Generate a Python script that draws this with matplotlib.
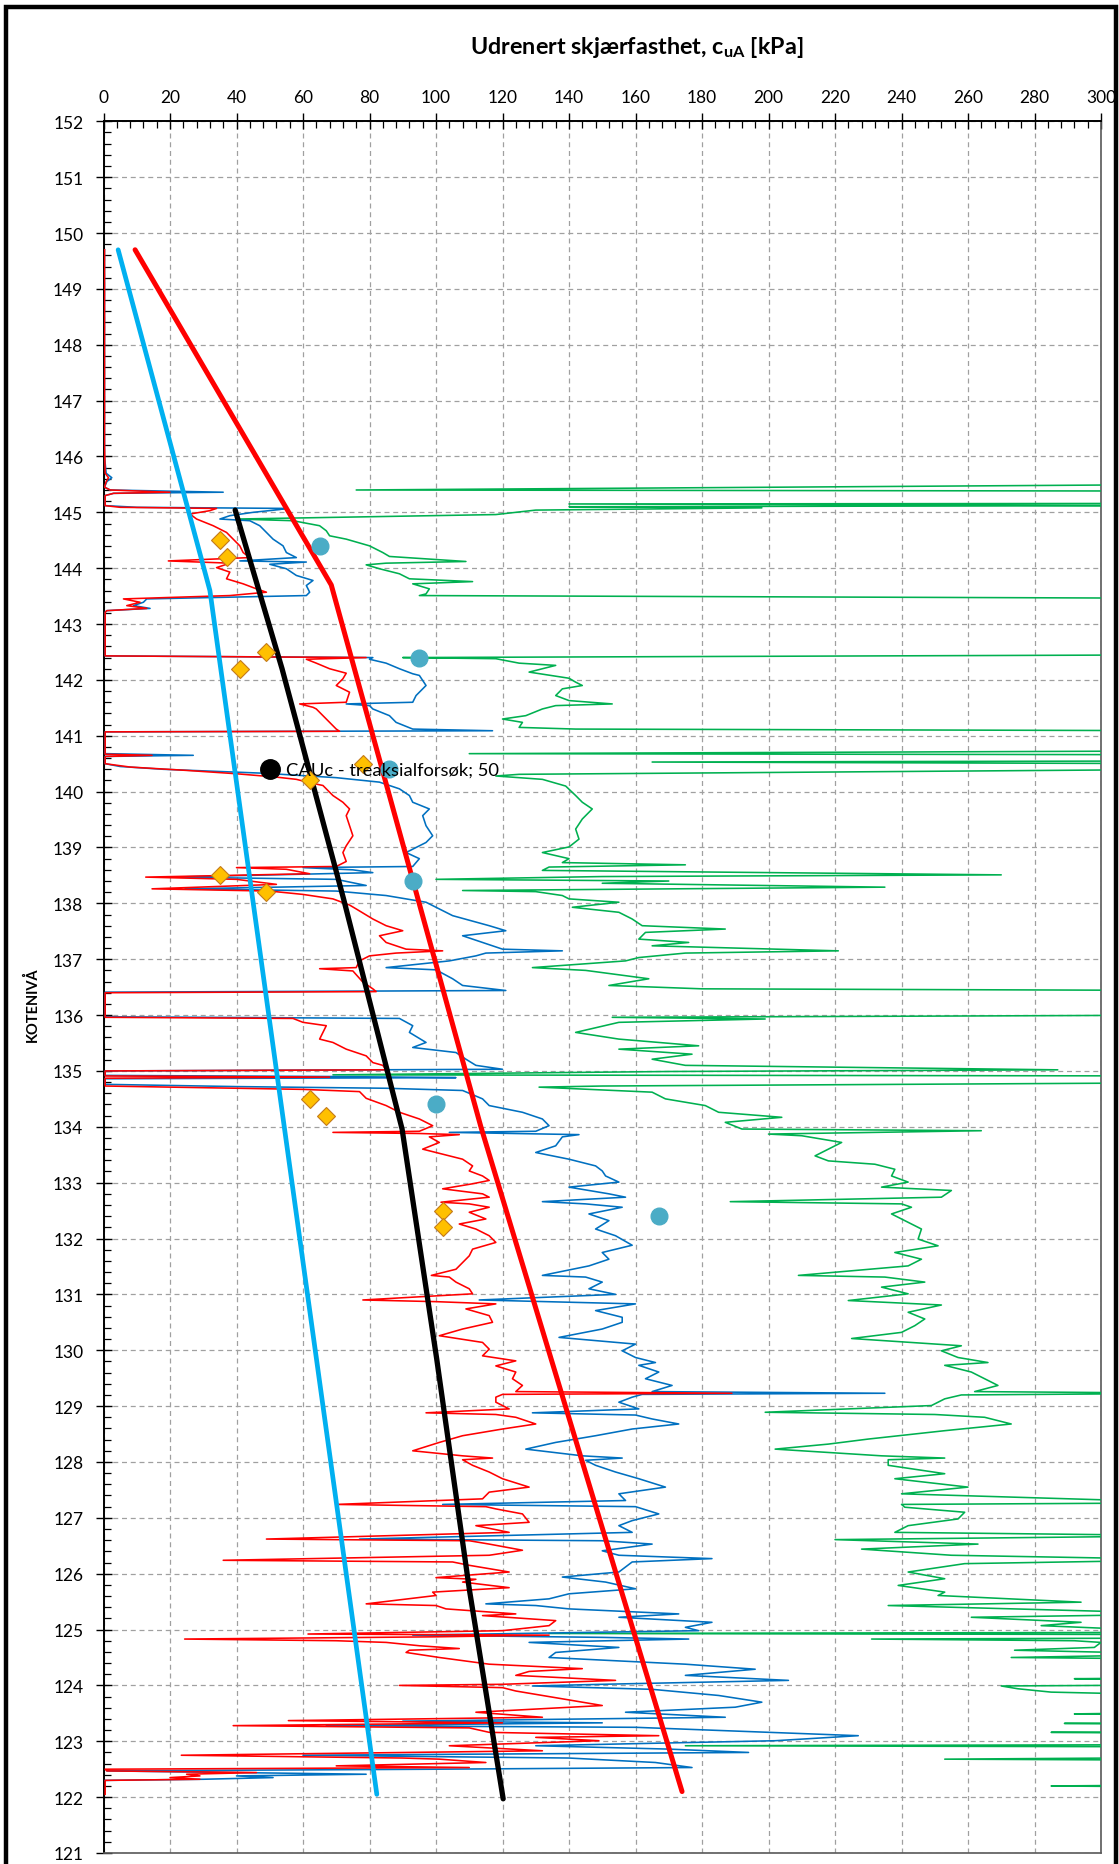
import matplotlib
matplotlib.use("Agg")
import matplotlib.pyplot as plt
from matplotlib.patches import Rectangle
from matplotlib.ticker import MultipleLocator

plt.rcParams['font.family'] = ['Lato', 'DejaVu Sans']
plt.rcParams['mathtext.fontset'] = 'custom'
plt.rcParams['mathtext.rm'] = 'Lato:bold'
plt.rcParams['mathtext.it'] = 'Lato:bold:italic'
plt.rcParams['mathtext.bf'] = 'Lato:bold'

# ---------------------------------------------------------------------------
# Undrained shear strength profiles, (elevation [m], c_uA [kPa])
# ---------------------------------------------------------------------------
cptu_red = [
    (149.70, 0.3), (146.20, 0.3), (145.70, 0.5), (145.62, 1.5), (145.55, 0.8), (145.45, 0.3),
    (145.40, 2.0), (145.36, 20.0), (145.34, 3.0), (145.30, 0.5), (145.12, 0.5), (145.09, 5.0),
    (145.07, 34.0), (145.03, 32.0), (144.97, 26.0), (144.88, 28.0), (144.76, 33.0), (144.64, 37.0),
    (144.52, 39.0), (144.40, 41.0), (144.28, 42.0), (144.19, 44.0), (144.13, 19.5), (144.09, 38.0),
    (144.01, 34.0), (143.93, 38.0), (143.81, 37.0), (143.72, 42.0), (143.63, 46.0), (143.57, 49.0),
    (143.51, 38.0), (143.45, 6.0), (143.39, 11.0), (143.33, 7.0), (143.28, 13.0), (143.24, 1.0),
    (143.21, 0.5), (142.43, 0.5), (142.40, 79.0), (142.37, 61.0), (142.30, 64.0), (142.20, 68.0),
    (142.12, 73.0), (142.02, 72.0), (141.90, 70.0), (141.78, 74.0), (141.60, 73.0), (141.57, 59.0),
    (141.51, 63.0), (141.48, 64.0), (141.36, 66.0), (141.24, 68.0), (141.12, 70.0), (141.08, 71.0),
    (141.07, 0.5), (140.67, 0.5), (140.65, 14.6), (140.63, 0.5), (140.50, 0.5), (140.44, 8.0),
    (140.38, 25.0), (140.32, 40.0), (140.26, 52.0), (140.22, 58.0), (140.16, 62.0), (140.11, 66.0),
    (139.93, 69.0), (139.81, 72.0), (139.69, 74.0), (139.57, 73.0), (139.39, 74.0), (139.21, 75.0),
    (139.03, 73.0), (138.91, 72.0), (138.75, 73.0), (138.66, 70.0), (138.64, 40.0), (138.61, 55.0),
    (138.53, 62.0), (138.47, 12.7), (138.43, 40.0), (138.34, 52.0), (138.26, 14.6), (138.22, 50.0),
    (138.16, 60.0), (138.08, 69.0), (137.97, 74.0), (137.90, 76.0), (137.72, 81.0), (137.60, 85.0),
    (137.51, 90.0), (137.42, 83.0), (137.30, 85.0), (137.18, 91.0), (137.15, 102.0), (137.11, 88.0),
    (137.06, 80.0), (136.97, 77.0), (136.85, 76.0), (136.83, 65.0), (136.79, 75.0), (136.59, 78.0),
    (136.47, 81.0), (136.42, 82.0), (136.40, 0.5), (135.96, 0.5), (135.94, 57.0), (135.87, 60.0),
    (135.81, 67.0), (135.69, 66.0), (135.57, 65.0), (135.51, 69.0), (135.39, 73.0), (135.27, 79.0),
    (135.15, 81.0), (135.10, 84.0), (135.02, 85.0), (135.00, 0.5), (134.91, 0.5), (134.89, 68.0),
    (134.87, 0.5), (134.73, 0.5), (134.70, 30.0), (134.67, 60.0), (134.63, 77.0), (134.51, 79.0),
    (134.38, 85.0), (134.26, 89.0), (134.14, 95.0), (134.02, 99.0), (133.92, 95.0), (133.90, 69.0),
    (133.88, 95.0), (133.86, 107.0), (133.82, 98.0), (133.72, 101.0), (133.60, 96.0), (133.51, 102.0),
    (133.42, 108.0), (133.30, 111.0), (133.21, 110.0), (133.12, 114.0), (133.04, 116.0), (132.98, 111.0),
    (132.89, 102.0), (132.80, 114.0), (132.74, 116.0), (132.65, 101.5), (132.62, 110.0), (132.56, 116.0),
    (132.47, 110.0), (132.35, 115.0), (132.26, 107.0), (132.17, 112.0), (132.05, 116.0), (131.93, 118.0),
    (131.81, 111.0), (131.69, 110.0), (131.57, 108.0), (131.45, 106.0), (131.34, 98.6), (131.31, 104.0),
    (131.22, 106.0), (131.10, 110.0), (131.01, 111.0), (130.90, 78.0), (130.87, 100.0), (130.83, 118.0),
    (130.74, 109.0), (130.62, 116.0), (130.50, 117.0), (130.38, 108.0), (130.26, 101.0), (130.14, 114.0),
    (130.02, 116.0), (129.90, 114.0), (129.81, 124.0), (129.72, 118.0), (129.61, 124.0), (129.49, 123.0),
    (129.37, 126.0), (129.26, 124.0), (129.23, 189.0), (129.21, 120.0), (129.16, 118.0), (129.07, 118.0),
    (128.95, 122.0), (128.88, 97.0), (128.85, 118.0), (128.80, 124.0), (128.68, 130.0), (128.59, 120.0),
    (128.47, 108.0), (128.35, 101.0), (128.20, 93.0), (128.11, 108.0), (128.07, 117.0), (128.04, 108.0),
    (127.94, 111.0), (127.82, 116.0), (127.70, 120.0), (127.55, 128.0), (127.46, 116.0), (127.34, 114.0),
    (127.24, 70.0), (127.20, 115.0), (127.16, 118.0), (127.07, 126.0), (126.92, 128.0), (126.86, 112.0),
    (126.74, 122.0), (126.62, 49.0), (126.59, 110.0), (126.53, 116.0), (126.42, 126.0), (126.33, 116.0),
    (126.24, 36.0), (126.21, 105.0), (126.15, 110.0), (126.03, 122.0), (125.93, 100.0), (125.90, 112.0),
    (125.85, 108.0), (125.75, 122.0), (125.67, 99.0), (125.61, 100.0), (125.46, 79.0), (125.43, 100.0),
    (125.37, 103.0), (125.28, 124.0), (125.25, 114.0), (125.16, 136.0), (125.07, 134.0), (124.98, 120.0),
    (124.92, 61.5), (124.90, 134.0), (124.87, 100.0), (124.83, 24.4), (124.80, 70.0), (124.77, 85.0),
    (124.71, 95.0), (124.66, 107.0), (124.63, 92.0), (124.59, 91.0), (124.50, 101.0), (124.38, 116.0),
    (124.30, 144.0), (124.25, 128.0), (124.18, 124.0), (124.09, 154.0), (124.02, 120.0), (124.00, 89.0),
    (123.96, 120.0), (123.90, 124.0), (123.82, 132.0), (123.70, 144.0), (123.64, 150.0), (123.52, 112.0),
    (123.43, 132.0), (123.37, 55.6), (123.33, 120.0), (123.28, 39.0), (123.24, 110.0), (123.16, 116.0),
    (123.10, 167.0), (123.07, 130.0), (123.01, 149.0), (122.92, 104.0), (122.83, 132.0), (122.75, 23.4),
    (122.70, 90.0), (122.68, 101.0), (122.62, 115.0), (122.56, 70.0), (122.53, 110.0), (122.50, 0.5),
    (122.47, 1.0), (122.44, 46.0), (122.41, 25.0), (122.38, 29.0), (122.35, 20.0), (122.32, 29.0),
    (122.30, 0.5), (122.05, 0.5),
]

cptu_blue = [
    (149.70, 0.3), (146.00, 0.3), (145.70, 0.8), (145.62, 2.5), (145.55, 1.0), (145.45, 0.3),
    (145.40, 2.0), (145.36, 36.0), (145.34, 3.0), (145.30, 0.5), (145.12, 0.5), (145.09, 10.0),
    (145.07, 55.0), (145.05, 53.0), (145.00, 45.0), (144.94, 38.0), (144.88, 35.0), (144.85, 44.0),
    (144.76, 47.0), (144.64, 49.0), (144.52, 51.0), (144.40, 54.0), (144.28, 55.0), (144.19, 58.0),
    (144.13, 41.0), (144.11, 61.0), (144.07, 50.0), (143.99, 55.0), (143.87, 58.0), (143.78, 63.0),
    (143.69, 61.0), (143.57, 62.0), (143.51, 61.0), (143.45, 13.0), (143.39, 12.0), (143.33, 9.0),
    (143.28, 14.0), (143.24, 1.0), (143.21, 0.5), (142.43, 0.5), (142.40, 81.0), (142.37, 80.0),
    (142.30, 85.0), (142.20, 89.0), (142.11, 93.0), (142.08, 95.0), (141.90, 97.0), (141.72, 94.0),
    (141.60, 93.0), (141.57, 73.0), (141.54, 80.0), (141.48, 81.0), (141.36, 86.0), (141.24, 88.0),
    (141.12, 93.0), (141.09, 117.0), (141.07, 0.5), (140.68, 0.5), (140.65, 27.0), (140.63, 0.5),
    (140.50, 0.5), (140.45, 5.0), (140.40, 18.0), (140.33, 48.0), (140.25, 70.0), (140.17, 83.0),
    (140.05, 89.0), (139.93, 92.0), (139.81, 93.0), (139.69, 98.0), (139.57, 96.0), (139.39, 97.0),
    (139.21, 99.0), (139.09, 97.0), (138.91, 91.0), (138.80, 95.0), (138.66, 93.0), (138.64, 60.0),
    (138.60, 75.0), (138.55, 81.0), (138.47, 20.5), (138.43, 70.0), (138.32, 79.0), (138.26, 24.5),
    (138.22, 70.0), (138.14, 85.0), (138.02, 97.0), (137.96, 99.0), (137.78, 105.0), (137.60, 116.0),
    (137.51, 121.0), (137.42, 108.0), (137.30, 114.0), (137.18, 120.0), (137.15, 138.0), (137.11, 115.0),
    (137.06, 112.0), (136.97, 104.0), (136.85, 85.0), (136.81, 100.0), (136.65, 105.0), (136.53, 108.0),
    (136.44, 121.0), (136.41, 0.5), (135.97, 0.5), (135.94, 89.0), (135.81, 93.0), (135.69, 92.0),
    (135.51, 97.0), (135.42, 93.0), (135.33, 106.0), (135.21, 109.0), (135.10, 112.0), (135.03, 120.0),
    (135.00, 0.5), (134.92, 0.5), (134.90, 70.0), (134.88, 106.0), (134.86, 0.5), (134.76, 0.5),
    (134.72, 40.0), (134.69, 85.0), (134.65, 108.0), (134.50, 114.0), (134.38, 116.0), (134.26, 126.0),
    (134.14, 132.0), (134.02, 134.0), (133.92, 130.0), (133.90, 104.0), (133.86, 143.0), (133.82, 138.0),
    (133.66, 136.0), (133.54, 130.0), (133.42, 140.0), (133.30, 148.0), (133.21, 150.0), (133.12, 151.0),
    (133.01, 155.0), (132.92, 140.0), (132.80, 152.0), (132.74, 157.0), (132.66, 132.0), (132.62, 145.0),
    (132.56, 156.0), (132.44, 146.0), (132.32, 152.0), (132.17, 148.0), (132.05, 154.0), (131.88, 159.0),
    (131.75, 150.0), (131.63, 152.0), (131.51, 146.0), (131.34, 132.0), (131.31, 145.0), (131.22, 150.0),
    (131.10, 146.0), (131.00, 154.0), (130.90, 113.0), (130.83, 160.0), (130.71, 148.0), (130.59, 156.0),
    (130.50, 156.0), (130.38, 150.0), (130.23, 137.0), (130.11, 160.0), (129.99, 156.0), (129.87, 160.0),
    (129.78, 166.0), (129.73, 161.0), (129.61, 167.0), (129.49, 163.0), (129.37, 171.0), (129.26, 165.0),
    (129.23, 235.0), (129.21, 162.0), (129.16, 159.0), (129.07, 155.0), (128.95, 161.0), (128.88, 129.0),
    (128.84, 160.0), (128.77, 165.0), (128.68, 173.0), (128.59, 159.0), (128.47, 148.0), (128.35, 136.0),
    (128.23, 127.0), (128.11, 144.0), (128.07, 156.0), (128.03, 145.0), (127.94, 148.0), (127.82, 154.0),
    (127.70, 161.0), (127.55, 169.0), (127.43, 155.0), (127.31, 157.0), (127.24, 102.0), (127.20, 160.0),
    (127.07, 167.0), (126.95, 159.0), (126.86, 155.0), (126.74, 159.0), (126.62, 77.0), (126.59, 150.0),
    (126.53, 165.0), (126.41, 150.0), (126.33, 155.0), (126.27, 183.0), (126.21, 159.0), (126.03, 155.0),
    (125.94, 138.0), (125.85, 151.0), (125.73, 160.0), (125.64, 140.0), (125.55, 134.0), (125.46, 115.0),
    (125.43, 130.0), (125.37, 140.0), (125.28, 173.0), (125.22, 155.0), (125.13, 183.0), (125.04, 175.0),
    (124.98, 179.0), (124.90, 93.0), (124.86, 150.0), (124.83, 176.0), (124.77, 128.0), (124.68, 155.0),
    (124.59, 136.0), (124.50, 134.0), (124.38, 175.0), (124.29, 196.0), (124.18, 175.0), (124.09, 206.0),
    (124.02, 150.0), (123.99, 129.0), (123.93, 165.0), (123.82, 185.0), (123.70, 198.0), (123.61, 190.0),
    (123.52, 157.0), (123.43, 187.0), (123.36, 90.0), (123.33, 150.0), (123.28, 67.0), (123.25, 160.0),
    (123.16, 200.0), (123.10, 227.0), (123.01, 202.0), (122.92, 130.0), (122.86, 170.0), (122.80, 194.0),
    (122.75, 60.0), (122.70, 140.0), (122.62, 166.0), (122.53, 177.0), (122.50, 100.0), (122.47, 1.0),
    (122.41, 79.0), (122.38, 40.0), (122.35, 51.0), (122.32, 30.0), (122.30, 0.5),
]

# values above the axis range (> 300 kPa) are carried as 330
cptu_green = [
    (145.50, 330.0), (145.40, 76.0), (145.38, 330.0), (145.16, 330.0), (145.15, 140.0), (145.12, 320.0),
    (145.10, 140.0), (145.08, 198.0), (145.04, 130.0), (144.96, 118.0), (144.90, 60.0), (144.88, 40.0),
    (144.85, 57.0), (144.76, 65.0), (144.67, 67.0), (144.58, 68.0), (144.52, 73.0), (144.40, 80.0),
    (144.28, 84.0), (144.21, 86.0), (144.12, 109.0), (144.09, 85.0), (144.06, 79.0), (143.99, 83.0),
    (143.90, 89.0), (143.81, 92.0), (143.76, 111.0), (143.72, 93.0), (143.63, 98.0), (143.54, 97.0),
    (143.51, 95.0), (143.46, 330.0), (142.45, 330.0), (142.40, 90.0), (142.38, 118.0), (142.30, 125.0),
    (142.26, 136.0), (142.14, 128.0), (142.03, 140.0), (141.96, 142.0), (141.90, 144.0), (141.84, 138.0),
    (141.72, 136.0), (141.63, 140.0), (141.57, 153.0), (141.54, 136.0), (141.48, 132.0), (141.36, 127.0),
    (141.30, 120.0), (141.24, 126.0), (141.15, 125.0), (141.12, 142.0), (141.09, 330.0), (140.73, 330.0),
    (140.68, 110.0), (140.66, 330.0), (140.55, 330.0), (140.53, 165.0), (140.50, 330.0), (140.40, 330.0),
    (140.31, 125.0), (140.28, 118.0), (140.22, 132.0), (140.10, 139.0), (139.93, 142.0), (139.81, 144.0),
    (139.69, 147.0), (139.51, 144.0), (139.33, 142.0), (139.15, 143.0), (139.01, 140.0), (138.91, 132.0),
    (138.80, 140.0), (138.73, 138.0), (138.69, 175.0), (138.65, 134.0), (138.59, 132.0), (138.51, 270.0),
    (138.48, 150.0), (138.43, 100.0), (138.40, 170.0), (138.36, 150.0), (138.29, 235.0), (138.23, 108.0),
    (138.21, 130.0), (138.14, 138.0), (138.08, 140.0), (138.02, 155.0), (137.93, 141.0), (137.84, 155.0),
    (137.72, 159.0), (137.60, 162.0), (137.54, 187.0), (137.48, 163.0), (137.36, 161.0), (137.30, 176.0),
    (137.24, 165.0), (137.15, 221.0), (137.11, 175.0), (137.03, 161.0), (136.97, 157.0), (136.85, 129.0),
    (136.80, 145.0), (136.65, 164.0), (136.53, 152.0), (136.47, 180.0), (136.44, 330.0), (136.00, 330.0),
    (135.96, 153.0), (135.93, 199.0), (135.87, 155.0), (135.69, 142.0), (135.57, 155.0), (135.45, 179.0),
    (135.39, 155.0), (135.30, 177.0), (135.21, 165.0), (135.10, 175.0), (135.02, 287.0), (134.99, 170.0),
    (134.93, 69.0), (134.91, 330.0), (134.79, 330.0), (134.73, 150.0), (134.71, 131.0), (134.62, 165.0),
    (134.50, 169.0), (134.38, 181.0), (134.26, 185.0), (134.17, 204.0), (134.08, 187.0), (133.96, 192.0),
    (133.93, 264.0), (133.87, 200.0), (133.84, 210.0), (133.72, 222.0), (133.60, 218.0), (133.48, 214.0),
    (133.39, 218.0), (133.33, 232.0), (133.24, 238.0), (133.12, 237.0), (133.01, 242.0), (132.92, 234.0),
    (132.86, 255.0), (132.74, 252.0), (132.66, 188.5), (132.62, 240.0), (132.56, 243.0), (132.44, 237.0),
    (132.29, 242.0), (132.17, 246.0), (131.99, 245.0), (131.87, 251.0), (131.75, 238.0), (131.63, 246.0),
    (131.51, 242.0), (131.34, 209.0), (131.31, 235.0), (131.22, 247.0), (131.13, 234.0), (131.01, 242.0),
    (130.89, 224.0), (130.81, 252.0), (130.68, 242.0), (130.56, 247.0), (130.44, 244.0), (130.32, 240.0),
    (130.21, 225.0), (130.08, 258.0), (129.99, 252.0), (129.87, 257.0), (129.78, 266.0), (129.73, 253.0),
    (129.61, 261.0), (129.49, 265.0), (129.37, 269.0), (129.26, 262.0), (129.23, 330.0), (129.20, 258.0),
    (129.13, 253.0), (129.01, 249.0), (128.89, 199.0), (128.85, 250.0), (128.80, 265.0), (128.68, 273.0),
    (128.56, 253.0), (128.41, 230.0), (128.32, 218.0), (128.23, 202.0), (128.11, 234.0), (128.07, 253.0),
    (128.04, 236.0), (127.94, 236.0), (127.79, 253.0), (127.70, 238.0), (127.55, 260.0), (127.43, 240.0),
    (127.27, 330.0), (127.24, 240.0), (127.19, 241.0), (127.10, 259.0), (126.98, 257.0), (126.86, 242.0),
    (126.74, 238.0), (126.68, 330.0), (126.61, 220.0), (126.53, 263.0), (126.44, 228.0), (126.33, 255.0),
    (126.25, 330.0), (126.18, 259.0), (126.03, 242.0), (125.91, 253.0), (125.79, 239.0), (125.67, 253.0),
    (125.61, 251.0), (125.49, 294.0), (125.43, 236.0), (125.28, 330.0), (125.22, 261.0), (125.13, 294.0),
    (125.07, 282.0), (124.95, 330.0), (124.93, 134.0), (124.91, 330.0), (124.85, 330.0), (124.83, 231.0),
    (124.80, 292.0), (124.77, 300.0), (124.68, 298.0), (124.63, 274.0), (124.60, 296.0), (124.56, 330.0),
    (124.50, 273.0), (124.47, 330.0), (124.14, 330.0), (124.12, 292.0), (124.10, 330.0), (124.01, 330.0),
    (123.99, 270.0), (123.94, 275.0), (123.88, 285.0), (123.82, 330.0), (123.52, 330.0), (123.49, 292.0),
    (123.47, 330.0), (123.33, 330.0), (123.32, 289.0), (123.30, 330.0), (123.17, 330.0), (123.16, 285.0),
    (123.14, 330.0), (122.94, 330.0), (122.92, 175.0), (122.90, 330.0), (122.71, 330.0), (122.68, 253.0),
    (122.66, 330.0), (122.22, 330.0), (122.20, 285.0), (122.18, 330.0), (122.10, 330.0),
]

# Design lines (elevation, c_uA)
design_lightblue = [(149.70, 4.4), (143.60, 32.0), (122.05, 82.2)]
design_red = [(149.70, 9.5), (143.70, 68.5), (134.00, 113.5), (122.10, 174.0)]
design_black = [(145.04, 39.6), (142.20, 53.7), (138.08, 72.2), (133.96, 89.8),
                (129.85, 100.2), (125.73, 110.0), (121.97, 120.2)]

# Laboratory results
lab_circle_elev = [144.4, 142.4, 140.4, 138.4, 134.4, 132.4]
lab_circle_cu = [65, 95, 86, 93, 100, 167]
lab_diamond_elev = [144.5, 144.2, 142.5, 142.2, 140.5, 140.2, 138.5, 138.2, 134.5, 134.2, 132.5, 132.2]
lab_diamond_cu = [35, 37, 49, 41, 78, 62, 35, 49, 62, 67, 102, 102]
triax_elev = [140.4]
triax_cu = [50]
triax_label = "CAUc - treaksialforsøk; 50"

x_ticks = list(range(0, 301, 20))
y_ticks = list(range(121, 153))


def split(profile):
    return [p[1] for p in profile], [p[0] for p in profile]


W, H = 1119, 1865
fig = plt.figure(figsize=(W / 100, H / 100), dpi=100)
ax = fig.add_axes([103.5 / W, 1 - 1854 / H, (1101 - 103.5) / W, (1854 - 122.3) / H])

ax.set_xlim(0, 300)
ax.set_ylim(121, 152)
ax.xaxis.tick_top()
ax.set_xticks(x_ticks)
ax.set_yticks(y_ticks)
ax.xaxis.set_minor_locator(MultipleLocator(4))
ax.yaxis.set_minor_locator(MultipleLocator(0.2))
ax.tick_params(axis='both', which='major', direction='inout', length=11, width=1.0,
               color='black', labelsize=12.5, labelcolor='black')
ax.tick_params(axis='x', which='major', pad=6)
ax.tick_params(axis='y', which='major', pad=9)
ax.tick_params(axis='both', which='minor', direction='in', length=5, width=0.9, color='black')

ax.grid(True, which='major', color='#a0a0a0', linestyle=(0, (4, 3)), linewidth=0.9)
ax.set_axisbelow(True)
for side in ('left', 'top'):
    ax.spines[side].set_color('black')
    ax.spines[side].set_linewidth(1.4)
for side in ('right', 'bottom'):
    ax.spines[side].set_color('#595959')
    ax.spines[side].set_linewidth(1.2)

# measured profiles
gx, gy = split(cptu_green)
ax.plot(gx, gy, color='#00B050', lw=1.15, zorder=3)
bx, by = split(cptu_blue)
ax.plot(bx, by, color='#0070C0', lw=1.15, zorder=4)
rx, ry = split(cptu_red)
ax.plot(rx, ry, color='#FF0000', lw=1.15, zorder=5)

# design lines
lx, ly = split(design_lightblue)
ax.plot(lx, ly, color='#00B0F0', lw=3.4, solid_capstyle='round', zorder=6)
kx, ky = split(design_black)
ax.plot(kx, ky, color='black', lw=3.8, solid_capstyle='round', zorder=6)
dx, dy = split(design_red)
ax.plot(dx, dy, color='#FF0000', lw=3.6, solid_capstyle='round', zorder=6)

# laboratory points
ax.plot(lab_circle_cu, lab_circle_elev, 'o', ms=12, color='#4BACC6', mec='#4BACC6', zorder=7)
ax.plot(lab_diamond_cu, lab_diamond_elev, 'D', ms=8.8, color='#FFC000', mec='#C47A1A',
        mew=0.8, zorder=8)
ax.plot(triax_cu, triax_elev, 'o', ms=14, color='black', zorder=9)
ax.annotate(triax_label, xy=(triax_cu[0], triax_elev[0]), xytext=(12, 0),
            textcoords='offset points', ha='left', va='center', fontsize=13.2,
            color='black', zorder=10)

# titles
fig.text(637 / W, 1 - 47.6 / H, r'Udrenert skjærfasthet, c$_{\mathrm{uA}}$ [kPa]',
         ha='center', va='center', fontsize=16.8, fontweight='bold')
fig.text(32 / W, 1 - 1005 / H, 'KOTENIVÅ', rotation=90, ha='center', va='center',
         fontsize=10.5, fontweight='bold')

# outer frame
fig.patches.append(Rectangle((6 / W, -0.01), (1116 - 6) / W, 1.01 - 7.5 / H,
                             transform=fig.transFigure, fill=False,
                             edgecolor='black', linewidth=3.2))

fig.savefig('out.png', dpi=100)
